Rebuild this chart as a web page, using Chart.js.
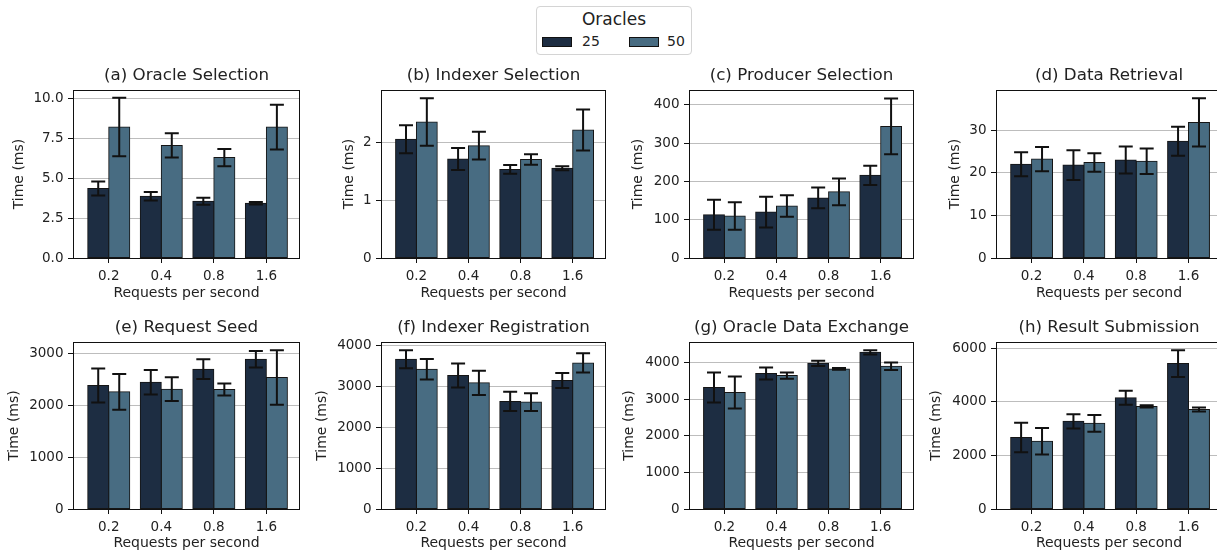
<!DOCTYPE html>
<html>
<head>
<meta charset="utf-8">
<script src="https://cdn.jsdelivr.net/npm/chart.js@4.4.0/dist/chart.umd.min.js"></script>
<style>
  body { margin: 0; width: 1217px; height: 553px; overflow: hidden; background: #fff; position: relative; font-family: "DejaVu Sans", sans-serif; color: #222; }
  .panel { position: absolute; }
  .legend { position: absolute; left: 536px; top: 6px; width: 156px; height: 49px; box-sizing: border-box; border: 1px solid #d4d4d4; border-radius: 4px; }
  .legend .title { position: absolute; left: 0; right: 0; top: 2px; text-align: center; font-size: 17px; }
  .legend .patch { position: absolute; top: 30px; width: 30px; height: 10px; box-sizing: border-box; border: 1px solid #111; }
  .legend .lbl { position: absolute; top: 26px; font-size: 14px; }
</style>
</head>
<body>
<div class="legend">
  <div class="title">Oracles</div>
  <div class="patch" style="left:5px;background:#1d2d42"></div>
  <div class="lbl" style="left:45px">25</div>
  <div class="patch" style="left:92px;background:#486c82"></div>
  <div class="lbl" style="left:130px">50</div>
</div>
<script>
// x categories
const rps = ["0.2", "0.4", "0.8", "1.6"];
const seriesNames = ["25", "50"];

const panelTitles = [
  "(a) Oracle Selection", "(b) Indexer Selection", "(c) Producer Selection", "(d) Data Retrieval",
  "(e) Request Seed", "(f) Indexer Registration", "(g) Oracle Data Exchange", "(h) Result Submission"
];

// mean times (ms) and error half-widths, 25 vs 50 oracles
const oracleSel25 = [4.35, 3.87, 3.55, 3.43];
const oracleSel25Err = [0.44, 0.27, 0.22, 0.08];
const oracleSel50 = [8.2, 7.05, 6.29, 8.2];
const oracleSel50Err = [1.83, 0.76, 0.54, 1.40];

const indexerSel25 = [2.05, 1.71, 1.53, 1.55];
const indexerSel25Err = [0.24, 0.19, 0.075, 0.035];
const indexerSel50 = [2.35, 1.94, 1.70, 2.21];
const indexerSel50Err = [0.41, 0.24, 0.09, 0.355];

const producerSel25 = [113, 120, 157, 216];
const producerSel25Err = [39, 40, 27, 25];
const producerSel50 = [110, 136, 173, 344];
const producerSel50Err = [36, 28, 35, 73];

const dataRet25 = [22.0, 21.8, 23.0, 27.4];
const dataRet25Err = [2.8, 3.5, 3.15, 3.4];
const dataRet50 = [23.2, 22.4, 22.7, 31.8];
const dataRet50Err = [2.85, 2.15, 3.0, 5.65];

const reqSeed25 = [2380, 2444, 2694, 2885];
const reqSeed25Err = [327, 235, 190, 160];
const reqSeed50 = [2258, 2310, 2303, 2534];
const reqSeed50Err = [345, 230, 115, 525];

const indexerReg25 = [3659, 3262, 2629, 3140];
const indexerReg25Err = [220, 292, 235, 183];
const indexerReg50 = [3416, 3083, 2613, 3570];
const indexerReg50Err = [248, 296, 219, 235];

const dataExch25 = [3320, 3701, 3982, 4281];
const dataExch25Err = [413, 163, 72, 59];
const dataExch50 = [3184, 3646, 3828, 3900];
const dataExch50Err = [435, 86, 23, 100];

const resultSub25 = [2661, 3267, 4146, 5421];
const resultSub25Err = [550, 267, 260, 500];
const resultSub50 = [2525, 3193, 3824, 3713];
const resultSub50Err = [495, 315, 43, 74];

// y axis limits / tick steps / tick decimals
const yMaxes = [10.52, 2.90, 439, 39.4, 3218, 4081, 4562, 6224];
const yTickSteps = [2.5, 1, 100, 10, 1000, 1000, 1000, 2000];
const yTickDecimals = [1, 0, 0, 0, 0, 0, 0, 0];

const panelSeries = [
  [oracleSel25, oracleSel25Err, oracleSel50, oracleSel50Err],
  [indexerSel25, indexerSel25Err, indexerSel50, indexerSel50Err],
  [producerSel25, producerSel25Err, producerSel50, producerSel50Err],
  [dataRet25, dataRet25Err, dataRet50, dataRet50Err],
  [reqSeed25, reqSeed25Err, reqSeed50, reqSeed50Err],
  [indexerReg25, indexerReg25Err, indexerReg50, indexerReg50Err],
  [dataExch25, dataExch25Err, dataExch50, dataExch50Err],
  [resultSub25, resultSub25Err, resultSub50, resultSub50Err]
];

// layout (page px): plot areas of the 2x4 grid
const columns = [{ L: 73, R: 300 }, { L: 381, R: 606 }, { L: 689, R: 914 }, { L: 996, R: 1222 }];
const rows = [{ T: 90, B: 258, xh: 44 }, { T: 342, B: 509, xh: 43 }];
const yTitleOffset = [54, 31.5, 50.5, 41, 59, 59, 60, 59.5];
const TITLE_H = 24;
const colors = ["#1d2d42", "#486c82"];

Chart.defaults.font.family = "'DejaVu Sans', sans-serif";
Chart.defaults.color = "#222";

// error bars + axes frame
const errorBarsAndFrame = {
  id: "errorBarsAndFrame",
  afterDatasetsDraw(chart) {
    const ctx = chart.ctx;
    const yScale = chart.scales.y;
    ctx.save();
    ctx.strokeStyle = "#111";
    ctx.lineWidth = 2;
    chart.data.datasets.forEach((ds, i) => {
      chart.getDatasetMeta(i).data.forEach((bar, j) => {
        const v = ds.data[j].y, e = ds.errs[j];
        const top = yScale.getPixelForValue(v + e);
        const bot = yScale.getPixelForValue(v - e);
        ctx.beginPath();
        ctx.moveTo(bar.x, top); ctx.lineTo(bar.x, bot);
        ctx.moveTo(bar.x - 7, top); ctx.lineTo(bar.x + 7, top);
        ctx.moveTo(bar.x - 7, bot); ctx.lineTo(bar.x + 7, bot);
        ctx.stroke();
      });
    });
    const a = chart.chartArea;
    ctx.lineWidth = 1;
    ctx.strokeStyle = "#111";
    ctx.strokeRect(Math.round(a.left) + 0.5, Math.round(a.top) + 0.5,
      Math.round(a.right - a.left) - 1, Math.round(a.bottom - a.top));
    ctx.restore();
  }
};

function makePanel(k) {
  const col = columns[k % 4], row = rows[Math.floor(k / 4)];
  const left = Math.round(col.L - yTitleOffset[k] - 8.4);
  const yw = col.L - left;
  const top = row.T - TITLE_H;
  const div = document.createElement("div");
  div.className = "panel";
  div.style.left = left + "px";
  div.style.top = top + "px";
  div.style.width = (col.R - left + 2) + "px";
  div.style.height = (row.B + row.xh - top) + "px";
  const canvas = document.createElement("canvas");
  div.appendChild(canvas);
  document.body.appendChild(div);

  const [m25, e25, m50, e50] = panelSeries[k];
  const step = yTickSteps[k], yMax = yMaxes[k], dec = yTickDecimals[k];

  new Chart(canvas, {
    type: "bar",
    data: {
      datasets: [
        { label: seriesNames[0], data: m25.map((v, i) => ({ x: i, y: v })), errs: e25,
          backgroundColor: colors[0], borderColor: "#151515", borderWidth: 1, borderSkipped: false, inflateAmount: 0.5 },
        { label: seriesNames[1], data: m50.map((v, i) => ({ x: i, y: v })), errs: e50,
          backgroundColor: colors[1], borderColor: "#151515", borderWidth: 1, borderSkipped: false, inflateAmount: 0.5 }
      ]
    },
    options: {
      responsive: true,
      maintainAspectRatio: false,
      animation: false,
      devicePixelRatio: 1,
      categoryPercentage: 0.8,
      barPercentage: 1.0,
      layout: { padding: { left: 0, right: 2, top: 0, bottom: 0 } },
      plugins: {
        legend: { display: false },
        tooltip: { enabled: false },
        title: {
          display: true, text: panelTitles[k], fullSize: false, color: "#222",
          font: { size: 16.7, weight: "normal" }, padding: { top: 0, bottom: 4 }
        }
      },
      scales: {
        x: {
          type: "linear", min: -0.68, max: 3.64, bounds: "data", offset: false,
          afterBuildTicks: s => { s.ticks = rps.map((_, i) => ({ value: i })); },
          afterFit: s => { s.height = row.xh; s.paddingLeft = 0; s.paddingRight = 0; },
          ticks: { callback: v => rps[v], autoSkip: false, maxRotation: 0, padding: 5.5, font: { size: 13.5 }, color: "#222" },
          grid: { offset: false, drawOnChartArea: false, drawTicks: true, tickLength: 5, tickColor: "#111", tickWidth: 1 },
          border: { display: false },
          title: { display: true, text: "Requests per second", font: { size: 14 }, padding: { top: 0, bottom: 0 }, color: "#222" }
        },
        y: {
          min: 0, max: yMax, bounds: "data",
          afterBuildTicks: s => {
            const t = [];
            for (let v = 0; v <= yMax + 1e-9; v += step) t.push({ value: +v.toFixed(6) });
            s.ticks = t;
          },
          afterFit: s => { s.width = yw; s.paddingTop = 0; s.paddingBottom = 0; },
          ticks: { callback: v => Number(v).toFixed(dec), padding: 4.5, font: { size: 13.5 }, color: "#222" },
          grid: { color: "#bdbdbd", lineWidth: 1, drawTicks: true, tickLength: 5, tickColor: "#111", tickWidth: 1 },
          border: { display: false },
          title: { display: true, text: "Time (ms)", font: { size: 14 }, padding: { top: 0, bottom: 0 }, color: "#222" }
        }
      }
    },
    plugins: [errorBarsAndFrame]
  });
}

for (let k = 0; k < 8; k++) makePanel(k);
</script>
</body>
</html>
